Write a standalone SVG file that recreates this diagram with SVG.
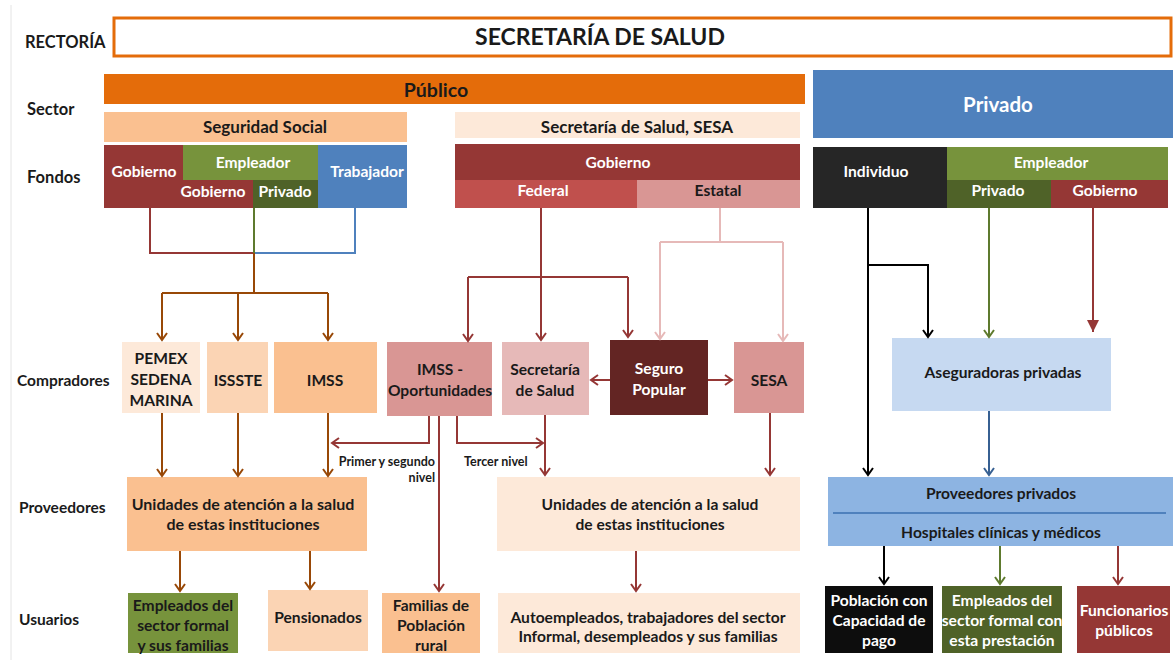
<svg xmlns="http://www.w3.org/2000/svg" width="1174" height="660" viewBox="0 0 1174 660">
<style>
text{font-family:Lato,"Liberation Sans","DejaVu Sans",sans-serif;font-weight:bold;fill:#1a1a1a}
.lbl{font-size:15.5px}
.t{font-size:15.6px;text-anchor:middle;dominant-baseline:central}
.w{fill:#ffffff}
.s{font-size:12.5px;dominant-baseline:central}
.c{fill:none;stroke-width:2}
.br{stroke:#984807}
.dr{stroke:#953735}
.pk{stroke:#E6B9B8}
.bk{stroke:#000000}
.gr{stroke:#5E7A2E}
.bl{stroke:#4F81BD}
.nb{stroke:#376092}
</style>
<defs>
<marker id="aBr" viewBox="-8 -6 10 12" refX="0" refY="0" markerWidth="10" markerHeight="12" markerUnits="userSpaceOnUse" orient="auto"><path d="M-7,-5 L0,0 L-7,5" fill="none" stroke="#984807" stroke-width="2"/></marker>
<marker id="aDr" viewBox="-8 -6 10 12" refX="0" refY="0" markerWidth="10" markerHeight="12" markerUnits="userSpaceOnUse" orient="auto"><path d="M-7,-5 L0,0 L-7,5" fill="none" stroke="#953735" stroke-width="2"/></marker>
<marker id="aPk" viewBox="-8 -6 10 12" refX="0" refY="0" markerWidth="10" markerHeight="12" markerUnits="userSpaceOnUse" orient="auto"><path d="M-7,-5 L0,0 L-7,5" fill="none" stroke="#E6B9B8" stroke-width="2"/></marker>
<marker id="aBk" viewBox="-8 -6 10 12" refX="0" refY="0" markerWidth="10" markerHeight="12" markerUnits="userSpaceOnUse" orient="auto"><path d="M-7,-5 L0,0 L-7,5" fill="none" stroke="#000000" stroke-width="2"/></marker>
<marker id="aGr" viewBox="-8 -6 10 12" refX="0" refY="0" markerWidth="10" markerHeight="12" markerUnits="userSpaceOnUse" orient="auto"><path d="M-7,-5 L0,0 L-7,5" fill="none" stroke="#5E7A2E" stroke-width="2"/></marker>
<marker id="aNb" viewBox="-8 -6 10 12" refX="0" refY="0" markerWidth="10" markerHeight="12" markerUnits="userSpaceOnUse" orient="auto"><path d="M-7,-5 L0,0 L-7,5" fill="none" stroke="#376092" stroke-width="2"/></marker>
<marker id="aFill" viewBox="-12 -7 12 14" refX="0" refY="0" markerWidth="12" markerHeight="14" markerUnits="userSpaceOnUse" orient="auto"><path d="M-12,-6 L0,0 L-12,6 Z" fill="#953735"/></marker>
</defs>
<rect width="1174" height="660" fill="#ffffff"/>
<line x1="11" y1="5" x2="11" y2="660" stroke="#e4e4e4" stroke-width="1"/>

<g id="row-labels">
<text class="lbl" x="25" y="48" style="font-size:16.5px">RECTORÍA</text>
<text class="lbl" x="27" y="115" style="font-size:16.5px">Sector</text>
<text class="lbl" x="27" y="183" style="font-size:16.5px">Fondos</text>
<text class="lbl" x="17" y="386">Compradores</text>
<text class="lbl" x="19" y="513">Proveedores</text>
<text class="lbl" x="19" y="625">Usuarios</text>
</g>

<g id="rectoria"><rect x="114" y="18" width="1057" height="38" fill="#ffffff" stroke="#E46C0A" stroke-width="3"/><text class="t" x="600" y="36" style="font-size:23px">SECRETARÍA DE SALUD</text></g>
<g id="publico"><rect x="104" y="74" width="701" height="30" fill="#E46C0A"/><text class="t" x="436" y="89" style="font-size:19.5px">Público</text></g>
<g id="privado"><rect x="813" y="70" width="360" height="68" fill="#4F81BD"/><text class="t w" x="998" y="104" style="font-size:20.5px">Privado</text></g>
<g id="seguridad-social"><rect x="104" y="112" width="303" height="30" fill="#FAC090"/><text class="t" x="265" y="126" style="font-size:17px">Seguridad Social</text></g>
<g id="ss-sesa"><rect x="455" y="112" width="345" height="26" fill="#FDE9D9"/><text class="t" x="637" y="126" style="font-size:17px">Secretaría de Salud, SESA</text></g>

<g id="fondo-ss-gobierno"><rect x="104" y="145" width="79" height="63" fill="#953735"/><text class="t w" x="144" y="171">Gobierno</text></g>
<g id="fondo-ss-empleador"><rect x="183" y="145" width="135" height="35" fill="#77933C"/><text class="t w" x="253" y="162">Empleador</text></g>
<g id="fondo-ss-emp-gobierno"><rect x="183" y="180" width="70" height="28" fill="#953735"/><text class="t w" x="213" y="191">Gobierno</text></g>
<g id="fondo-ss-emp-privado"><rect x="253" y="180" width="65" height="28" fill="#4F6228"/><text class="t w" x="285" y="191">Privado</text></g>
<g id="fondo-ss-trabajador"><rect x="318" y="145" width="89" height="63" fill="#4F81BD"/><text class="t w" x="367" y="171">Trabajador</text></g>

<g id="fondo-sesa-gobierno"><rect x="455" y="144" width="345" height="36" fill="#953735"/><text class="t w" x="618" y="162">Gobierno</text></g>
<g id="fondo-sesa-federal"><rect x="455" y="180" width="182" height="28" fill="#C0504D"/><text class="t w" x="543" y="190">Federal</text></g>
<g id="fondo-sesa-estatal"><rect x="637" y="180" width="163" height="28" fill="#D99694"/><text class="t" x="718" y="190">Estatal</text></g>

<g id="fondo-pr-individuo"><rect x="813" y="147" width="134" height="61" fill="#262626"/><text class="t w" x="876" y="171">Individuo</text></g>
<g id="fondo-pr-empleador"><rect x="947" y="147" width="221" height="33" fill="#77933C"/><text class="t w" x="1051" y="162">Empleador</text></g>
<g id="fondo-pr-privado"><rect x="947" y="180" width="104" height="28" fill="#4F6228"/><text class="t w" x="998" y="190">Privado</text></g>
<g id="fondo-pr-gobierno"><rect x="1051" y="180" width="117" height="28" fill="#953735"/><text class="t w" x="1105" y="190">Gobierno</text></g>

<g id="c-pemex"><rect x="122" y="342" width="78" height="71" fill="#FDE9D9"/><text class="t" x="161" y="358">PEMEX</text><text class="t" x="161" y="379">SEDENA</text><text class="t" x="161" y="400">MARINA</text></g>
<g id="c-issste"><rect x="207" y="342" width="61" height="71" fill="#FBD4B4"/><text class="t" x="238" y="380">ISSSTE</text></g>
<g id="c-imss"><rect x="274" y="342" width="103" height="71" fill="#FAC090"/><text class="t" x="325" y="380">IMSS</text></g>
<g id="c-imss-op"><rect x="387" y="342" width="105" height="74" fill="#D99694"/><text class="t" x="440" y="369">IMSS -</text><text class="t" x="440" y="390">Oportunidades</text></g>
<g id="c-ssa"><rect x="502" y="342" width="87" height="73" fill="#E6B9B8"/><text class="t" x="545" y="369">Secretaría</text><text class="t" x="545" y="390">de Salud</text></g>
<g id="c-seguro-popular"><rect x="610" y="340" width="98" height="75" fill="#632523"/><text class="t w" x="659" y="368">Seguro</text><text class="t w" x="659" y="389">Popular</text></g>
<g id="c-sesa"><rect x="734" y="342" width="70" height="71" fill="#D99694"/><text class="t" x="769" y="380">SESA</text></g>
<g id="c-aseguradoras"><rect x="892" y="338" width="219" height="73" fill="#C6D9F1"/><text class="t" x="1003" y="372">Aseguradoras privadas</text></g>

<g id="p-unidades-ss"><rect x="127" y="477" width="240" height="74" fill="#FAC090"/><text class="t" x="243" y="503" style="font-size:16px">Unidades de atención a la salud</text><text class="t" x="243" y="523" style="font-size:16px">de estas instituciones</text></g>
<g id="p-unidades-sesa"><rect x="497" y="477" width="303" height="74" fill="#FDE9D9"/><text class="t" x="650" y="504">Unidades de atención a la salud</text><text class="t" x="650" y="524">de estas instituciones</text></g>
<g id="p-privados"><rect x="828" y="477" width="345" height="69" fill="#8DB4E2"/><line x1="833" y1="513" x2="1166" y2="513" stroke="#4F81BD" stroke-width="2"/><text class="t" x="1001" y="493">Proveedores privados</text><text class="t" x="1001" y="532">Hospitales clínicas y médicos</text></g>

<g id="u-empleados"><rect x="128" y="593" width="110" height="60" fill="#77933C"/><text class="t" x="183" y="605">Empleados del</text><text class="t" x="183" y="625">sector formal</text><text class="t" x="183" y="645">y sus familias</text></g>
<g id="u-pensionados"><rect x="268" y="590" width="100" height="61" fill="#FBD4B4"/><text class="t" x="318" y="617">Pensionados</text></g>
<g id="u-familias"><rect x="382" y="593" width="98" height="60" fill="#FAC090"/><text class="t" x="431" y="605">Familias de</text><text class="t" x="431" y="625">Población</text><text class="t" x="431" y="645">rural</text></g>
<g id="u-autoempleados"><rect x="498" y="593" width="302" height="60" fill="#FDE9D9"/><text class="t" x="648" y="617">Autoempleados, trabajadores del sector</text><text class="t" x="648" y="636">Informal, desempleados y sus familias</text></g>
<g id="u-poblacion"><rect x="825" y="586" width="108" height="67" fill="#0D0D0D"/><text class="t w" x="879" y="600">Población con</text><text class="t w" x="879" y="620">Capacidad de</text><text class="t w" x="879" y="640">pago</text></g>
<g id="u-empleados-pr"><rect x="942" y="586" width="120" height="67" fill="#4F6228"/><text class="t w" x="1002" y="600">Empleados del</text><text class="t w" x="1002" y="620">sector formal con</text><text class="t w" x="1002" y="640">esta prestación</text></g>
<g id="u-funcionarios"><rect x="1077" y="586" width="93" height="67" fill="#953735"/><text class="t w" x="1124" y="610">Funcionarios</text><text class="t w" x="1124" y="630">públicos</text></g>

<g id="connectors">
<path class="c dr" d="M150,208 V253 H254"/>
<path class="c bl" d="M355,208 V253 H254"/>
<path class="c gr" d="M254,208 V253"/>
<path class="c br" d="M254,253 V293 M162,293 H328"/>
<path class="c br" d="M162,293 V340" marker-end="url(#aBr)"/>
<path class="c br" d="M238,293 V340" marker-end="url(#aBr)"/>
<path class="c br" d="M328,293 V340" marker-end="url(#aBr)"/>

<path class="c dr" d="M541,208 V340" marker-end="url(#aDr)"/>
<path class="c dr" d="M468,277 H628"/>
<path class="c dr" d="M468,277 V341" marker-end="url(#aDr)"/>
<path class="c dr" d="M628,277 V337" marker-end="url(#aDr)"/>

<path class="c pk" d="M720,208 V242 M660,242 H783"/>
<path class="c pk" d="M660,242 V339" marker-end="url(#aPk)"/>
<path class="c pk" d="M783,242 V341" marker-end="url(#aPk)"/>

<path class="c dr" d="M610,380 H591" marker-end="url(#aDr)"/>
<path class="c dr" d="M708,380 H732" marker-end="url(#aDr)"/>

<path class="c dr" d="M429,416 V443 H332" marker-end="url(#aDr)"/>
<path class="c dr" d="M439,416 V591" marker-end="url(#aDr)"/>
<path class="c dr" d="M457,416 V443 H543" marker-end="url(#aDr)"/>

<path class="c br" d="M162,413 V476" marker-end="url(#aBr)"/>
<path class="c br" d="M238,413 V476" marker-end="url(#aBr)"/>
<path class="c br" d="M328,413 V476" marker-end="url(#aBr)"/>
<path class="c dr" d="M545,415 V475" marker-end="url(#aDr)"/>
<path class="c dr" d="M770,413 V475" marker-end="url(#aDr)"/>

<path class="c br" d="M180,551 V591" marker-end="url(#aBr)"/>
<path class="c br" d="M310,551 V589" marker-end="url(#aBr)"/>
<path class="c dr" d="M636,551 V591" marker-end="url(#aDr)"/>

<path class="c bk" d="M868,208 V475" marker-end="url(#aBk)"/>
<path class="c bk" d="M868,265 H928 V337" marker-end="url(#aBk)"/>
<path class="c gr" d="M989,208 V337" marker-end="url(#aGr)"/>
<path class="c dr" d="M1093,208 V332" stroke-width="4" marker-end="url(#aFill)"/>
<path class="c nb" d="M989,411 V475" marker-end="url(#aNb)"/>

<path class="c bk" d="M884,546 V584" marker-end="url(#aBk)"/>
<path class="c gr" d="M1000,546 V584" marker-end="url(#aGr)"/>
<path class="c dr" d="M1118,546 V584" marker-end="url(#aDr)"/>

<text class="s" x="435" y="461" text-anchor="end">Primer y segundo</text>
<text class="s" x="435" y="477" text-anchor="end">nivel</text>
<text class="s" x="464" y="461">Tercer nivel</text>
</g>
</svg>
